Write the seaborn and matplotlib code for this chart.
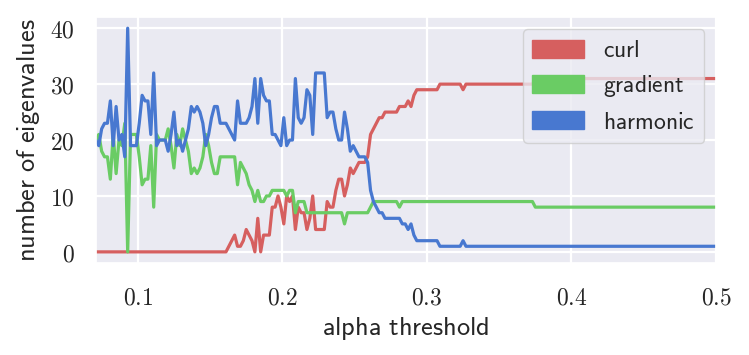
import numpy as np
import pandas as pd
import seaborn as sns
import matplotlib.pyplot as plt
from matplotlib.patches import Patch
from matplotlib.ticker import FuncFormatter

# alpha thresholds (dense part, then where the tail changes)
alpha = [0.071, 0.073, 0.075, 0.077, 0.079, 0.081, 0.083, 0.085, 0.087, 0.089,
         0.091, 0.093, 0.095, 0.097, 0.099, 0.101, 0.103, 0.105, 0.107, 0.109,
         0.111, 0.113, 0.115, 0.117, 0.119, 0.121, 0.123, 0.125, 0.127, 0.129,
         0.131, 0.133, 0.135, 0.137, 0.139, 0.141, 0.143, 0.145, 0.147, 0.149,
         0.151, 0.153, 0.155, 0.157, 0.159, 0.161, 0.163, 0.165, 0.167, 0.169,
         0.171, 0.173, 0.175, 0.177, 0.179, 0.181, 0.183, 0.185, 0.187, 0.189,
         0.191, 0.193, 0.195, 0.197, 0.199, 0.201, 0.203, 0.205, 0.207, 0.209,
         0.211, 0.213, 0.215, 0.217, 0.219, 0.221, 0.223, 0.225, 0.227, 0.229,
         0.231, 0.233, 0.235, 0.237, 0.239, 0.241, 0.243, 0.245, 0.247, 0.249,
         0.251, 0.253, 0.255, 0.257, 0.259, 0.261, 0.263, 0.265, 0.267, 0.269,
         0.271, 0.273, 0.275, 0.277, 0.279, 0.281, 0.283, 0.285, 0.287, 0.289,
         0.291, 0.293, 0.295, 0.297, 0.299, 0.301, 0.303, 0.305, 0.307, 0.309,
         0.311, 0.313, 0.315, 0.317, 0.319, 0.321, 0.323, 0.325, 0.327,
         0.373, 0.375, 0.5]

curl = [0, 0, 0, 0, 0, 0, 0, 0, 0, 0,
        0, 0, 0, 0, 0, 0, 0, 0, 0, 0,
        0, 0, 0, 0, 0, 0, 0, 0, 0, 0,
        0, 0, 0, 0, 0, 0, 0, 0, 0, 0,
        0, 0, 0, 0, 0, 0, 1, 2, 3, 1,
        1, 2, 4, 3, 2, 0, 6, 0, 3, 3,
        3, 8, 8, 10, 8, 5, 10, 9, 10, 4,
        8, 7, 7, 4, 6, 10, 4, 4, 4, 4,
        9, 8, 8, 11, 13, 13, 10, 12, 15, 14,
        15, 16, 16, 16, 17, 21, 22, 23, 24, 24,
        25, 25, 25, 25, 25, 26, 26, 26, 27, 26,
        28, 29, 29, 29, 29, 29, 29, 29, 29, 30,
        30, 30, 30, 30, 30, 30, 30, 29, 30,
        30, 31, 31]

gradient = [20, 21, 18, 17, 17, 13, 21, 14, 20, 19,
            23, 0, 21, 21, 21, 17, 12, 13, 13, 19,
            8, 21, 20, 20, 20, 22, 19, 15, 21, 19,
            22, 20, 18, 14, 15, 14, 15, 17, 21, 19,
            16, 14, 14, 17, 17, 17, 17, 17, 17, 12,
            16, 15, 14, 12, 11, 9, 11, 9, 9, 10,
            10, 11, 11, 11, 11, 11, 10, 11, 11, 7,
            9, 9, 9, 7, 7, 7, 7, 7, 7, 7,
            7, 7, 7, 7, 7, 7, 5, 7, 7, 7,
            7, 7, 7, 7, 7, 8, 9, 9, 9, 9,
            9, 9, 9, 9, 9, 8, 9, 9, 9, 9,
            9, 9, 9, 9, 9, 9, 9, 9, 9, 9,
            9, 9, 9, 9, 9, 9, 9, 9, 9,
            9, 8, 8]

harmonic = [20, 19, 22, 23, 23, 27, 19, 26, 20, 21,
            17, 40, 19, 19, 19, 23, 28, 27, 27, 21,
            32, 19, 20, 20, 20, 18, 21, 25, 19, 20,
            18, 20, 22, 26, 25, 26, 25, 23, 19, 21,
            24, 26, 26, 23, 23, 23, 22, 21, 20, 27,
            23, 23, 23, 24, 26, 31, 23, 31, 28, 27,
            27, 21, 21, 20, 19, 24, 19, 20, 20, 31,
            24, 23, 24, 29, 28, 21, 32, 32, 32, 32,
            24, 25, 25, 22, 20, 20, 25, 22, 18, 19,
            18, 17, 17, 17, 16, 11, 9, 8, 7, 7,
            6, 6, 6, 6, 6, 6, 5, 5, 4, 5,
            3, 2, 2, 2, 2, 2, 2, 2, 2, 1,
            1, 1, 1, 1, 1, 1, 1, 2, 1,
            1, 1, 1]

names = ["curl", "gradient", "harmonic"]

df = pd.DataFrame({"alpha": alpha * 3,
                   "count": curl + gradient + harmonic,
                   "kind": [n for n in names for _ in alpha]})

sns.set_theme(style="darkgrid")
plt.rcParams["mathtext.fontset"] = "cm"
pal = sns.color_palette("muted")
colors = {"curl": pal[3], "gradient": pal[2], "harmonic": pal[0]}

fig = plt.figure(figsize=(7.49, 3.55), dpi=100)
ax = fig.add_axes([0.128, 0.259, 0.828, 0.693])

sns.lineplot(data=df, x="alpha", y="count", hue="kind", palette=colors,
             linewidth=2.3, ax=ax, legend=False)

ax.set_xlim(0.071, 0.5)
ax.set_xticks([0.1, 0.2, 0.3, 0.4, 0.5])
ax.set_yticks([0, 10, 20, 30, 40])
fmt = FuncFormatter(lambda v, p: f"${v:g}$")
ax.xaxis.set_major_formatter(fmt)
ax.yaxis.set_major_formatter(fmt)
ax.tick_params(axis="both", labelsize=17, length=0)
ax.tick_params(axis="x", pad=16)
ax.tick_params(axis="y", pad=15)
ax.grid(linewidth=1.6)

ax.set_xlabel(r"$\mathsf{alpha\ threshold}$", fontsize=19, labelpad=4)
ax.set_ylabel(r"$\mathsf{number\ of\ eigenvalues}$", fontsize=19, labelpad=6)

handles = [Patch(color=colors[n]) for n in names]
labels = [r"$\mathsf{%s}$" % n for n in names]
ax.legend(handles, labels, loc="upper right", fontsize=17,
          handlelength=2.2, handleheight=0.8, handletextpad=0.8,
          labelspacing=0.45)

fig.savefig("out.png", dpi=100)
